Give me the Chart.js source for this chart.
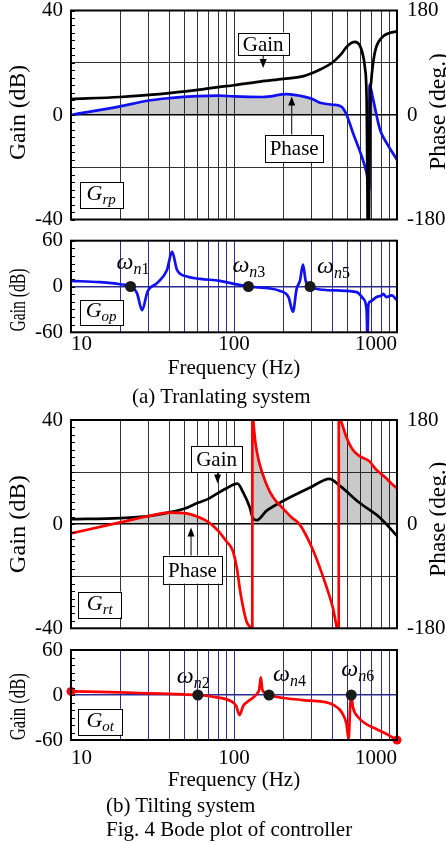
<!DOCTYPE html>
<html>
<head>
<meta charset="utf-8">
<script src="https://cdn.jsdelivr.net/npm/chart.js@4.4.1/dist/chart.umd.min.js"></script>
<style>
body { margin: 0; background: #fff; }
#fig { position: relative; width: 446px; height: 843px; overflow: hidden; font-family: "Liberation Serif", serif; }
.plot { position: absolute; left: 0; width: 446px; }
.cap { position: absolute; font-size: 21px; line-height: 24px; white-space: nowrap; color: #000; }
</style>
</head>
<body>
<div id="fig">
  <div class="plot" style="top:0;height:234px"><canvas id="grp" width="446" height="234"></canvas></div>
  <div class="plot" style="top:232px;height:156px"><canvas id="gop" width="446" height="156"></canvas></div>
  <div class="cap" style="left:132px;top:384px">(a) Tranlating system</div>
  <div class="plot" style="top:404px;height:236px"><canvas id="grt" width="446" height="236"></canvas></div>
  <div class="plot" style="top:638px;height:158px"><canvas id="got" width="446" height="158"></canvas></div>
  <div class="cap" style="left:106px;top:793px">(b) Tilting system</div>
  <div class="cap" style="left:106px;top:817px">Fig. 4 Bode plot of controller</div>
</div>
<script>
// frequency grid and labels
const gridFreqs = [10, 20, 30, 40, 50, 60, 70, 80, 90, 100, 200, 300, 400, 500, 600, 700, 800, 900, 1000];
const freqLabels = [10, 100, 1000];

// (a) translating system - G_rp
const grpGainFreq = [10, 20, 30, 40, 60, 80, 100, 145, 200, 263, 300, 340, 400, 450, 500, 552, 593, 615, 636, 651, 667, 683, 695, 730, 800, 900, 1000];
const grpGain = [6.1, 6.9, 7.7, 8.4, 9.6, 10.7, 11.4, 12.8, 13.8, 14.8, 16, 17.5, 20, 23, 26.6, 28, 26.5, 23.5, 18, 6, -60, 4, 13, 23.7, 29.4, 31.4, 32];
const grpPhaseFreq = [10, 20, 30, 40, 60, 80, 100, 150, 211, 255, 300, 337, 405, 458, 491, 537, 607, 651, 676, 678, 715, 786, 863, 1000];
const grpPhase = [0, 14.8, 25, 29, 32.5, 33.5, 32, 31, 36, 33, 28, 21, 17.7, 14, 0, -31, -71, -100, -129, 52, 26, -25, -48, -77];

// (a) translating system - G_op
const gopFreq = [10, 15, 20, 23.2, 25.4, 27.3, 29.5, 33.7, 38.8, 41.7, 44.7, 51.5, 62, 82, 100, 122.6, 166, 190, 216, 230, 242, 254, 265, 275, 293, 353, 427, 566, 621, 651, 659, 667, 683, 750, 805, 823, 863, 927, 1000];
const gopGain = [7.4, 5.7, 3, 0, -8.7, -31, -6.5, 4.4, 21.7, 45.6, 21.7, 13, 10, 7.4, 3.5, 0, -2.6, -5.6, -14, -33, -3.4, 7.8, 28.7, 7.8, 0, -4.3, -5.2, -7.3, -16, -31, -70, -25, -20, -13.8, -11.7, -9.5, -13.8, -11.7, -18];
const gopNatFreq = [23.2, 122.6, 293];

// (b) tilting system - G_rt
const grtGainFreq = [10, 20, 30, 40, 50, 60, 70, 80, 90, 105, 114, 125, 130, 138, 158, 200, 292, 385, 447, 586, 786, 1000];
const grtGain = [1.9, 2.3, 3.1, 4.5, 6, 8.2, 9.8, 12, 13.8, 15.6, 12.1, 6.4, 2.5, 1.5, 5.1, 8.9, 14, 17.4, 14.7, 8.3, 2.5, -4.5];
const grtPhaseFreq = [10, 20, 30, 40, 50, 60, 70, 80, 90, 98, 104, 109, 115, 120, 127, 129.5, 129.7, 135, 142, 158, 174, 200, 225, 252, 300, 350, 403, 439, 439.3, 454, 487, 534, 586, 675, 741, 853, 935, 1000];
const grtPhase = [-16, 3, 14, 20, 19, 12.6, 3, -11.5, -30, -45, -75, -115, -150, -170, -180, -186, 186, 143, 109, 69, 46, 27, 12, 0, -40, -89, -143, -186, 186, 178, 152, 129, 118, 109, 95, 80, 69, 62];

// (b) tilting system - G_ot
const gotFreq = [10, 20, 30.7, 49, 60, 78.5, 94.6, 103, 108, 114, 125, 138, 143, 146, 149, 153, 164, 200, 254, 292, 337, 405, 458, 490, 505, 516, 524, 537, 580, 650, 750, 863, 935, 1000];
const gotGain = [4.8, 3.5, 2.2, 0.8, 0, -3.2, -7.6, -14.3, -26.7, -14.3, -6.7, 1.3, 8, 23.5, 8, 3.5, 0, -4, -6.3, -7.6, -8.4, -13, -23, -38.7, -58.7, -15, -1, -16.5, -30, -39, -45.7, -52, -56.5, -60];
const gotNatFreq = [60, 164, 524];

Chart.defaults.font.family = '"Liberation Serif", serif';
Chart.defaults.color = '#000';

const pts = (fs, vs) => fs.map((f, i) => ({ x: f, y: vs[i] }));
const FONT = '"Liberation Serif", serif';

function drawParts(ctx, parts, x, y, center) {
  const fontOf = p => (p.it ? 'italic ' : '') + p.size + 'px ' + FONT;
  let w = 0;
  parts.forEach(p => { ctx.font = fontOf(p); w += ctx.measureText(p.t).width; });
  let cx = center ? x - w / 2 : x;
  ctx.textAlign = 'left';
  ctx.textBaseline = 'alphabetic';
  parts.forEach(p => {
    ctx.font = fontOf(p);
    ctx.fillText(p.t, cx, y + (p.dy || 0));
    cx += ctx.measureText(p.t).width;
  });
}

const deco = {
  id: 'deco',
  afterDraw(chart, args, o) {
    const { ctx, chartArea: a, scales } = chart;
    const xs = scales.x, ys = scales.y;
    ctx.save();
    ctx.fillStyle = '#000';
    // minor ticks on left border
    ctx.strokeStyle = '#000';
    ctx.lineWidth = 1;
    for (let v = ys.min; v <= ys.max + 1e-6; v += o.minorStep) {
      const y = Math.round(ys.getPixelForValue(v)) + 0.5;
      ctx.beginPath(); ctx.moveTo(a.left, y); ctx.lineTo(a.left + 4, y); ctx.stroke();
    }
    // frame
    ctx.lineWidth = 2;
    ctx.strokeRect(a.left, a.top, a.right - a.left, a.bottom - a.top);
    // rotated axis titles
    (o.titles || []).forEach(t => {
      ctx.save();
      ctx.translate(t.x, (a.top + a.bottom) / 2 + t.dy);
      ctx.rotate(-Math.PI / 2);
      ctx.font = t.size + 'px ' + FONT;
      const w = ctx.measureText(t.text).width;
      ctx.scale(t.len / w, 1);
      ctx.textAlign = 'center';
      ctx.textBaseline = 'middle';
      ctx.fillText(t.text, 0, 0);
      ctx.restore();
    });
    // natural frequency labels
    (o.nat || []).forEach(n => {
      const x = xs.getPixelForValue(n.f), y = ys.getPixelForValue(0);
      drawParts(ctx, [
        { t: '\u03c9', size: 24, it: true },
        { t: 'n', size: 16, it: true, dy: 5 },
        { t: n.k, size: 16, dy: 5 }
      ], x + n.dx, y + n.dy, false);
    });
    // arrows
    ctx.lineWidth = 1;
    (o.arrows || []).forEach(r => {
      const x = xs.getPixelForValue(r.f);
      const y0 = ys.getPixelForValue(r.from), y1 = ys.getPixelForValue(r.to);
      const d = y1 > y0 ? 1 : -1;
      ctx.beginPath(); ctx.moveTo(x, y0); ctx.lineTo(x, y1 - d * 7); ctx.stroke();
      ctx.beginPath(); ctx.moveTo(x, y1); ctx.lineTo(x - 3.5, y1 - d * 9); ctx.lineTo(x + 3.5, y1 - d * 9); ctx.closePath(); ctx.fill();
    });
    // labelled boxes
    (o.boxes || []).forEach(b => {
      const cx = xs.getPixelForValue(b.f), cy = ys.getPixelForValue(b.v);
      ctx.fillStyle = '#fff';
      ctx.fillRect(cx - b.w / 2, cy - b.h / 2, b.w, b.h);
      ctx.strokeStyle = '#000';
      ctx.lineWidth = 1;
      ctx.strokeRect(Math.round(cx - b.w / 2) + 0.5, Math.round(cy - b.h / 2) + 0.5, Math.round(b.w), Math.round(b.h));
      ctx.fillStyle = '#000';
      drawParts(ctx, b.parts, cx, cy + b.base, true);
    });
    ctx.restore();
  }
};

function xAxis(showLabels, gridColor, height, tickPad, titlePad) {
  return {
    type: 'logarithmic', min: 10, max: 1000,
    afterBuildTicks: s => { s.ticks = gridFreqs.map(v => ({ value: v })); },
    afterFit: s => { s.height = height; s.paddingLeft = 0; s.paddingRight = 0; },
    grid: { color: gridColor, lineWidth: 1, drawTicks: false },
    border: { display: false },
    ticks: {
      display: showLabels, autoSkip: false, maxRotation: 0, align: 'inner', padding: tickPad || 0,
      font: { size: 21 },
      callback: v => freqLabels.includes(v) ? String(v) : ''
    },
    title: { display: showLabels, text: 'Frequency (Hz)', font: { size: 21 }, padding: { top: 0, bottom: titlePad || 0 } }
  };
}

function yAxis(lim, gridColor, zeroColor) {
  return {
    position: 'left', min: -lim, max: lim,
    afterBuildTicks: s => {
      s.ticks = (lim === 40 ? [-40, -20, 0, 20, 40] : [-60, 0, 60]).map(v => ({ value: v }));
    },
    afterFit: s => { s.width = 71; s.paddingTop = 0; s.paddingBottom = 0; },
    grid: {
      drawTicks: false,
      color: c => c.tick.value === 0 ? zeroColor : gridColor,
      lineWidth: c => c.tick.value === 0 ? 1.5 : 1
    },
    border: { display: false },
    ticks: { font: { size: 21 }, padding: 8, callback: v => (v % lim === 0 ? String(v) : '') }
  };
}

const phaseAxis = {
  position: 'right', min: -180, max: 180,
  afterBuildTicks: s => { s.ticks = [-180, 0, 180].map(v => ({ value: v })); },
  afterFit: s => { s.width = 49; s.paddingTop = 0; s.paddingBottom = 0; },
  grid: { display: false, drawTicks: false },
  border: { display: false },
  ticks: { font: { size: 21 }, padding: 10 }
};

function lineSet(data, color, axis, extra) {
  return Object.assign({
    data, borderColor: color, borderWidth: 2.7, pointRadius: 0, fill: false,
    cubicInterpolationMode: 'monotone', yAxisID: axis
  }, extra || {});
}

const grayFill = { target: 'origin', above: 'rgba(0,0,0,0.21)', below: 'rgba(0,0,0,0)' };
const gName = (sub) => [{ t: 'G', size: 22, it: true }, { t: sub, size: 15, it: true, dy: 4 }];

function baseOptions(scales, padding, decoOpts) {
  return {
    responsive: false, animation: false, devicePixelRatio: 1,
    layout: { padding },
    scales,
    plugins: { legend: { display: false }, tooltip: { enabled: false }, deco: decoOpts }
  };
}

// (a) G_rp
new Chart(document.getElementById('grp'), {
  type: 'line',
  data: {
    datasets: [
      lineSet(pts(grpGainFreq, grpGain), '#000', 'y'),
      lineSet(pts(grpPhaseFreq, grpPhase), '#1010f0', 'y2', { fill: grayFill })
    ]
  },
  options: baseOptions(
    { x: xAxis(false, '#333', 14.5), y: yAxis(40, '#333', '#000'), y2: phaseAxis },
    { top: 10.5, left: 0, right: 0, bottom: 0 },
    {
      minorStep: 20 / 7,
      titles: [
        { text: 'Gain (dB)', x: 19, dy: -2.5, size: 23, len: 95 },
        { text: 'Phase (deg.)', x: 439, dy: -3.5, size: 23, len: 117 }
      ],
      arrows: [{ f: 151, from: 23.1, to: 18 }, { f: 226, from: -7.5, to: 7.1 }],
      boxes: [
        { f: 151, v: 27.3, w: 51, h: 22, base: 7, parts: [{ t: 'Gain', size: 21 }] },
        { f: 234, v: -12.75, w: 58, h: 27, base: 7, parts: [{ t: 'Phase', size: 21 }] },
        { f: 15.3, v: -30.7, w: 43, h: 26, base: 5, parts: gName('rp') }
      ]
    }),
  plugins: [deco]
});

// (a) G_op
new Chart(document.getElementById('gop'), {
  type: 'line',
  data: {
    datasets: [
      { data: gopNatFreq.map(f => ({ x: f, y: 0 })), showLine: false, pointRadius: 5.5, pointBackgroundColor: '#1a1a1a', pointBorderWidth: 0, yAxisID: 'y', clip: false },
      lineSet(pts(gopFreq, gopGain), '#1010f0', 'y')
    ]
  },
  options: baseOptions(
    { x: xAxis(true, '#2c2c90', 55.7, 0, 7), y: yAxis(60, '#2c2c90', '#2c2c90') },
    { top: 8.7, left: 0, right: 49, bottom: 0 },
    {
      minorStep: 10,
      titles: [{ text: 'Gain (dB)', x: 19, dy: 13.5, size: 23, len: 63 }],
      nat: [
        { f: gopNatFreq[0], k: '1', dx: -14, dy: -18 },
        { f: gopNatFreq[1], k: '3', dx: -16, dy: -15 },
        { f: gopNatFreq[2], k: '5', dx: 7, dy: -14 }
      ],
      boxes: [{ f: 15.3, v: -34, w: 43, h: 25, base: 5, parts: gName('op') }]
    }),
  plugins: [deco]
});

// (b) G_rt
new Chart(document.getElementById('grt'), {
  type: 'line',
  data: {
    datasets: [
      lineSet(pts(grtPhaseFreq, grtPhase), '#ff0000', 'y2', { fill: grayFill }),
      lineSet(pts(grtGainFreq, grtGain), '#000', 'y')
    ]
  },
  options: baseOptions(
    { x: xAxis(false, '#333', 11.7), y: yAxis(40, '#333', '#000'), y2: phaseAxis },
    { top: 16, left: 0, right: 0, bottom: 0 },
    {
      minorStep: 20 / 7,
      titles: [
        { text: 'Gain (dB)', x: 19, dy: 0, size: 23, len: 98 },
        { text: 'Phase (deg.)', x: 439, dy: -5, size: 23, len: 115 }
      ],
      arrows: [{ f: 79.3, from: 20, to: 15.6 }, { f: 54.5, from: -12.2, to: -1.3 }],
      boxes: [
        { f: 78.2, v: 25, w: 51, h: 26, base: 7, parts: [{ t: 'Gain', size: 21 }] },
        { f: 55.6, v: -17.45, w: 59, h: 28, base: 7, parts: [{ t: 'Phase', size: 21 }] },
        { f: 15, v: -30.9, w: 43, h: 26, base: 5, parts: gName('rt') }
      ]
    }),
  plugins: [deco]
});

// (b) G_ot
new Chart(document.getElementById('got'), {
  type: 'line',
  data: {
    datasets: [
      { data: gotNatFreq.map(f => ({ x: f, y: 0 })), showLine: false, pointRadius: 5.5, pointBackgroundColor: '#1a1a1a', pointBorderWidth: 0, yAxisID: 'y', clip: false },
      { data: [0, gotFreq.length - 1].map(i => ({ x: gotFreq[i], y: gotGain[i] })), showLine: false, pointRadius: 4.5, pointBackgroundColor: '#ff0000', pointBorderWidth: 0, yAxisID: 'y', clip: false },
      lineSet(pts(gotFreq, gotGain), '#ff0000', 'y')
    ]
  },
  options: baseOptions(
    { x: xAxis(true, '#2c2c90', 56, 6, 3), y: yAxis(60, '#2c2c90', '#2c2c90') },
    { top: 12, left: 0, right: 49, bottom: 0 },
    {
      minorStep: 10,
      titles: [{ text: 'Gain (dB)', x: 19, dy: 11.7, size: 23, len: 67 }],
      nat: [
        { f: gotNatFreq[0], k: '2', dx: -21, dy: -12.5 },
        { f: gotNatFreq[1], k: '4', dx: 4, dy: -14 },
        { f: gotNatFreq[2], k: '6', dx: -10, dy: -19 }
      ],
      boxes: [{ f: 15.1, v: -35.6, w: 44, h: 26, base: 5, parts: gName('ot') }]
    }),
  plugins: [deco]
});
</script>
</body>
</html>
